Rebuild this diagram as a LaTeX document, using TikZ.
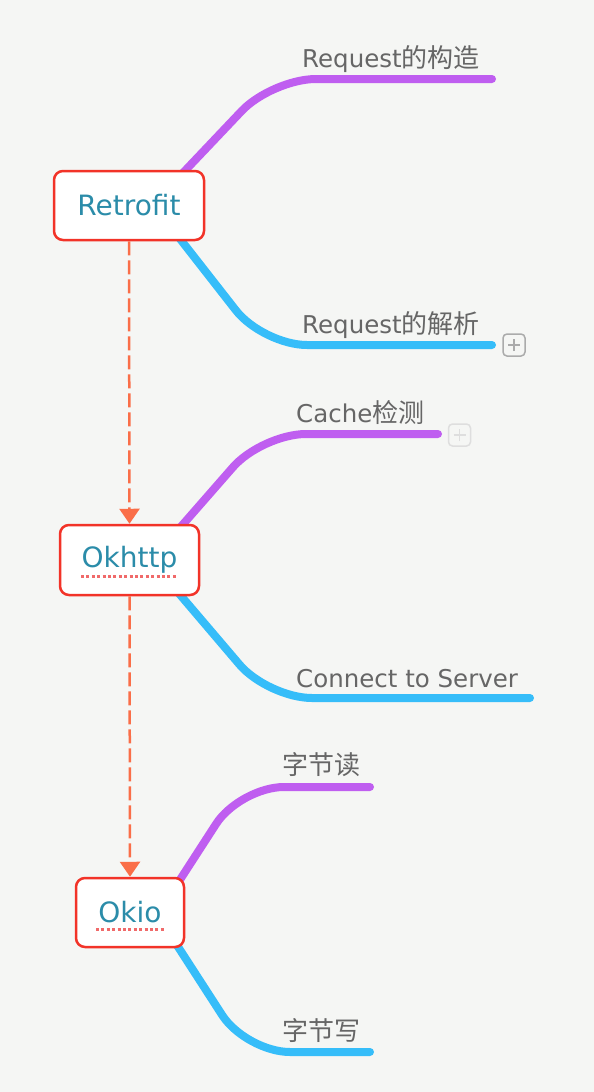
\documentclass[tikz,border=0pt]{standalone}
\usepackage{fontspec}
\setmainfont{DejaVu Sans}
\newfontfamily\cjk{Noto Sans CJK SC}
\usetikzlibrary{arrows.meta}
\definecolor{bgcol}{HTML}{F5F6F4}
\definecolor{purp}{HTML}{BF5EF0}
\definecolor{skyb}{HTML}{36BDF9}
\definecolor{nodered}{HTML}{F23328}
\definecolor{topictext}{HTML}{2B8CA9}
\definecolor{labelgray}{HTML}{666666}
\definecolor{deporange}{HTML}{FA6E48}
\definecolor{spellred}{HTML}{F06A6A}
\newcommand\zh[1]{{\cjk\fontsize{26}{30}\selectfont #1}}
\tikzset{
  branch/.style={line width=8pt, line cap=round, rounded corners=44pt},
  topic/.style={draw=nodered, fill=white, line width=2.5pt, rounded corners=9pt,
    text=topictext, font=\fontsize{28}{32}\selectfont, inner sep=0pt},
  lbl/.style={anchor=base west, inner sep=0pt, text=labelgray,
    font=\fontsize{24.5}{28}\selectfont},
  dep/.style={draw=deporange, line width=2.5pt, dash pattern=on 14pt off 5pt,
    -{Triangle[width=20pt,length=15pt]}},
  spell/.style={draw=spellred, line width=3pt, dash pattern=on 3pt off 2.4pt},
  plusbox/.style={draw, line width=1.5pt, rounded corners=4pt, minimum size=22pt, inner sep=0pt}
}
\begin{document}
\begin{tikzpicture}[x=1pt,y=-1pt]
\fill[bgcol] (0,0) rectangle (594,1092);
\useasboundingbox (0,0) rectangle (594,1092);

% branch geometry
\coordinate (s1) at (180,176); \coordinate (k1) at (272,79);  \coordinate (e1) at (492,79);
\coordinate (s2) at (177,235); \coordinate (k2) at (263,345); \coordinate (e2) at (492,345);
\coordinate (s3) at (178,530); \coordinate (k3) at (262,434); \coordinate (e3) at (438,434);
\coordinate (s4) at (176,590); \coordinate (k4) at (268,698); \coordinate (e4) at (530,698);
\coordinate (s5) at (174,889); \coordinate (k5) at (240,787); \coordinate (e5) at (370,787);
\coordinate (s6) at (173,939); \coordinate (k6) at (246,1052); \coordinate (e6) at (370,1052);

\draw[branch,purp] (s1) -- (k1) -- (e1);
\draw[branch,skyb] (s2) -- (k2) -- (e2);
\draw[branch,purp] (s3) -- (k3) -- (e3);
\draw[branch,skyb] (s4) -- (k4) -- (e4);
\draw[branch,purp] (s5) -- (k5) -- (e5);
\draw[branch,skyb] (s6) -- (k6) -- (e6);

% central topics
\node[topic, minimum width=150pt, minimum height=69pt] (retro) at (129,205.5) {Retrofit};
\node[topic, minimum width=139pt, minimum height=70pt] (okhttp) at (129.5,560) {Okhttp};
\node[topic, minimum width=108pt, minimum height=69pt] (okio) at (130,912.5) {Okio};

% dependency arrows
\draw[dep] (retro.south) -- (okhttp.north);
\draw[dep] (okhttp.south) -- (okio.north);

% spell-check underlines
\draw[spell] (81,576) -- (178,576);
\draw[spell] (96,929) -- (166,929);

% labels
\node[lbl] (l1) at (302,67) {Request\zh{的构造}};
\node[lbl] (l2) at (302,333) {Request\zh{的解析}};
\node[lbl] (l3) at (296,422) {Cache\zh{检测}};
\node[lbl] (l4) at (296,687) {Connect to Server};
\node[lbl] (l5) at (282,774) {\zh{字节读}};
\node[lbl] (l6) at (282,1040) {\zh{字节写}};

% collapse (+) boxes
\node[plusbox, draw=black!33] (p1) at (514,345) {};
\draw[black!33, line width=1.5pt] ([xshift=-6pt]p1.center) -- ([xshift=6pt]p1.center)
  ([yshift=-6pt]p1.center) -- ([yshift=6pt]p1.center);
\node[plusbox, draw=black!13] (p2) at (459.5,435) {};
\draw[black!13, line width=1.5pt] ([xshift=-6pt]p2.center) -- ([xshift=6pt]p2.center)
  ([yshift=-6pt]p2.center) -- ([yshift=6pt]p2.center);
\end{tikzpicture}
\end{document}
